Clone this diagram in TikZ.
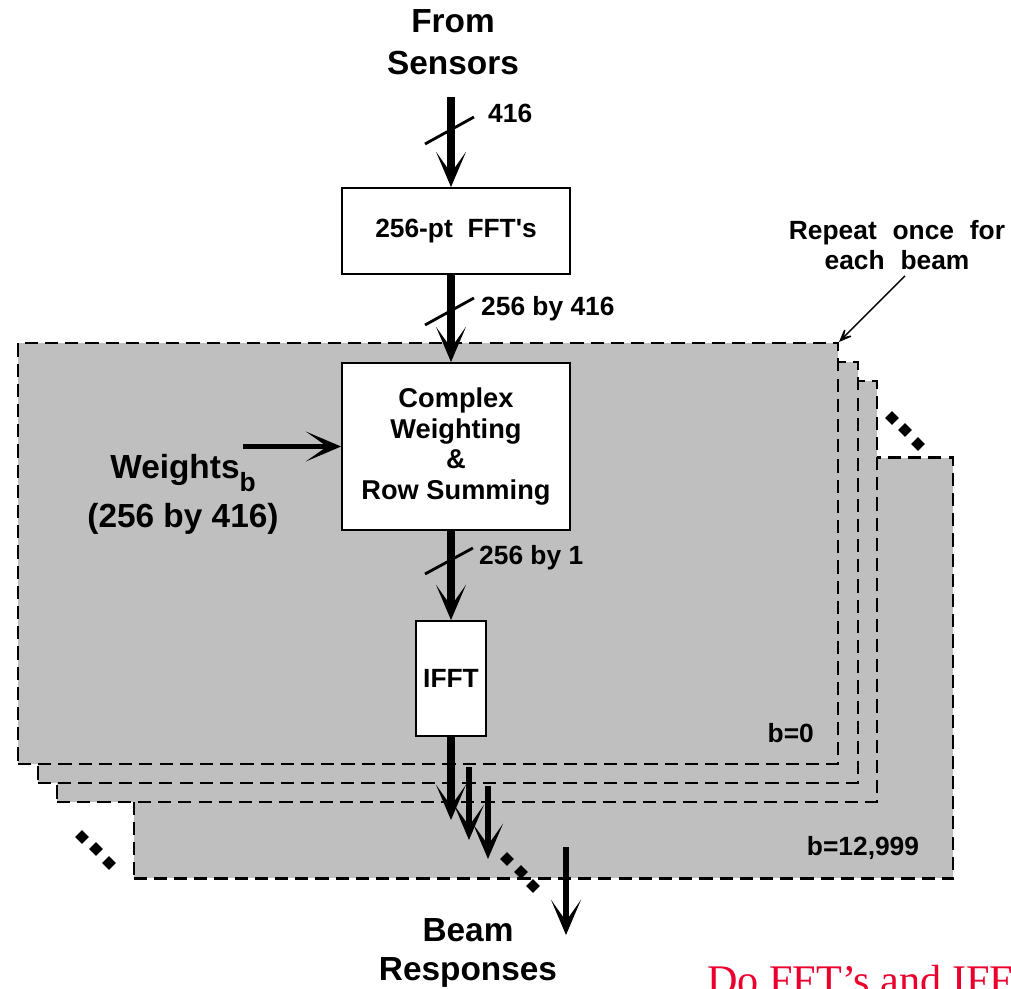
\documentclass[tikz,border=0pt]{standalone}
\usepackage{fontspec}
\setmainfont{Liberation Sans}
\newfontfamily\notefont{Liberation Serif}
\usetikzlibrary{arrows.meta, positioning, shapes.geometric, calc}

\definecolor{sheetgray}{RGB}{191,191,191}
\definecolor{notered}{RGB}{235,0,45}
\newcommand{\widespace}{\spaceskip=0.6em\relax}

\begin{document}
\begin{tikzpicture}[
    x=0.02cm, y=-0.02cm,
    every node/.style={font=\bfseries\fontsize{15}{17}\selectfont},
    sheet/.style={draw, fill=sheetgray, line width=1.2pt, dash pattern=on 7.5pt off 4pt,
        minimum width=16.4cm, minimum height=8.42cm, inner sep=0pt},
    block/.style={draw, fill=white, line width=1.1pt, align=center, inner sep=0pt},
    bus/.style={line width=4pt, -{Stealth[length=20pt, width=17pt, inset=12pt]}},
    slash/.style={line width=1.6pt},
    dotmark/.style={diamond, fill=black, minimum size=0.28cm, inner sep=0pt},
    big/.style={font=\bfseries\fontsize{19}{24}\selectfont, align=center}
]
    \useasboundingbox (0,0) rectangle (1011,989);
    \clip (0,0) rectangle (1011,989);

    % stack of beam sheets, back to front
    \node[sheet] (sheetN) at (543.5,668) {};
    \node[sheet] (sheet2) at (467,591.5) {};
    \node[sheet] (sheet1) at (448,572.5) {};
    \node[sheet] (sheet0) at (428,553.5) {};

    \foreach \x/\y [count=\i] in {892/418, 905/430, 918/444}
        \node[dotmark] (ur\i) at (\x,\y) {};
    \foreach \x/\y [count=\i] in {82/837, 96/849, 109/863}
        \node[dotmark] (ll\i) at (\x,\y) {};
    \foreach \x/\y [count=\i] in {507/859, 521/872, 533/886}
        \node[dotmark] (lo\i) at (\x,\y) {};

    % blocks
    \node[block, minimum width=4.56cm, minimum height=1.72cm] (fft) at (456,231) {256-pt\ \ FFT\textquotesingle s};
    \node[block, minimum width=4.56cm, minimum height=3.34cm,
          font=\bfseries\fontsize{15.5}{17.3}\selectfont] (cw) at (456,446.5)
        {Complex\\Weighting\\\&\\Row Summing};
    \node[block, minimum width=1.4cm, minimum height=2.3cm] (ifft) at (451,678.5) {IFFT};

    % labels
    \node[big] (src) at (453,42) {From\\Sensors};
    \node[big, font=\bfseries\fontsize{19}{22.7}\selectfont] (resp) at (468,953) {Beam\\Responses};
    \node[big, font=\bfseries\fontsize{19}{28}\selectfont] (wts) at (183,494)
        {Weights\raisebox{-7.5pt}{\fontsize{15}{15}\selectfont b}\\(256 by 416)};
    \node[anchor=west] (l416) at (482,113) {416};
    \node[anchor=west] (l256a) at (475,309) {256 by 416};
    \node[anchor=west] (l256b) at (473,558) {256 by 1};
    \node[anchor=east] (b0) at (820,733) {b=0};
    \node (bN) at (863,848) {b=12,999};
    \node[align=center, font=\bfseries\fontsize{15}{17}\selectfont\widespace] (rpt) at (897,245)
        {Repeat once for\\each beam};
    \node[anchor=base west, inner sep=0pt, text=notered,
          font=\notefont\fontsize{24}{26}\selectfont] (note) at (707,994) {Do FFT’s and IFF};

    % connectors
    \coordinate (in) at (451,97);
    \draw[bus] (in) -- (in |- fft.north);
    \draw[bus] (in |- fft.south) -- (in |- cw.north);
    \draw[bus] (in |- cw.south) -- (ifft.north);
    \draw[slash] (425,144) -- (474,117);
    \draw[slash] (425,325) -- (474,298);
    \draw[slash] (425,574) -- (473,548);

    \coordinate (wsrc) at (243,446.5);
    \draw[line width=3pt, -{Stealth[length=20pt, width=17pt, inset=12pt]}] (wsrc) -- (cw.west);

    \coordinate (out0) at (451,820);
    \coordinate (in1) at (469,767);
    \coordinate (out1) at (469,840);
    \coordinate (in2) at (488,786);
    \coordinate (out2) at (488,859);
    \coordinate (inN) at (566,847);
    \coordinate (outN) at (566,935);
    \draw[bus] (ifft.south) -- (out0);
    \draw[bus, line width=3.5pt] (in1) -- (out1);
    \draw[bus, line width=3.5pt] (in2) -- (out2);
    \draw[bus, line width=3.5pt] (inN) -- (outN);

    \draw[line width=0.8pt, -{Stealth[length=11pt, width=9pt, inset=7pt]}]
        ($(rpt.south)+(8,0)$) -- (sheet0.north east);
\end{tikzpicture}
\end{document}
